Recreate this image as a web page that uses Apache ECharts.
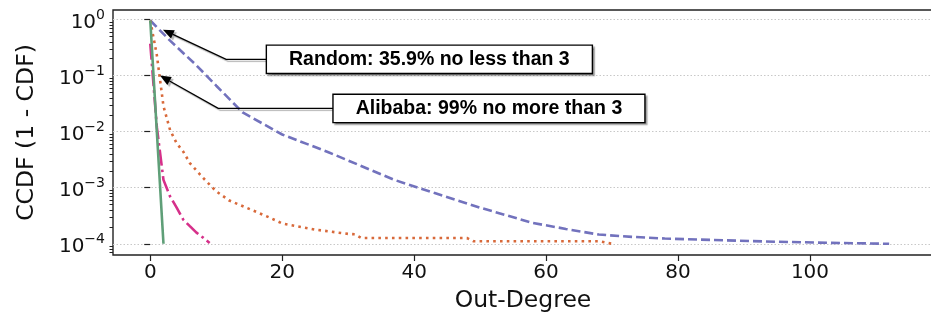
<!DOCTYPE html>
<html>
<head>
<meta charset="utf-8">
<script src="https://cdn.jsdelivr.net/npm/echarts@6/dist/echarts.min.js"></script>
<style>
  html, body { margin: 0; padding: 0; background: #fff; }
  #chart { width: 931px; height: 322px; }
</style>
</head>
<body>
<div id="chart"></div>
<script>
// x ticks and decade ticks of the log axis
const xTicks = [0, 20, 40, 60, 80, 100];
const yDecades = [1e-4, 1e-3, 1e-2, 1e-1, 1];
const yMinor = [7e-5, 8e-5, 9e-5];
[1e-4, 1e-3, 1e-2, 1e-1].forEach((d) => {
  for (let k = 2; k <= 9; k++) yMinor.push(+(d * k).toPrecision(3));
});

// CCDF curves
const randomX = [0, 3, 7, 10, 14, 20, 27, 37, 43, 50, 58, 63, 68, 73, 78, 83, 93, 103, 112];
const randomY = [0.96, 0.42, 0.152, 0.066, 0.022, 0.0089, 0.0043, 0.00138, 0.00081,
  0.00044, 0.000235, 0.000184, 0.000146, 0.000133, 0.000124, 0.000119, 0.00011,
  0.000104, 0.0001];

const orangeX = [0, 1, 2, 3, 4, 5, 6, 8, 10, 12, 15, 18, 20, 25, 30, 31, 32, 48, 49, 68, 70];
const orangeY = [0.96, 0.23, 0.0285, 0.0107, 0.0062, 0.0044, 0.00275, 0.0015, 0.00086,
  0.00059, 0.00042, 0.000296, 0.00023, 0.000179, 0.00015, 0.000148, 0.000127,
  0.000127, 0.000111, 0.000111, 0.0001];

const magentaX = [0, 1, 2, 3, 4, 5, 6, 7, 8, 9];
const magentaY = [0.37, 0.012, 0.00138, 0.0007, 0.00044, 0.00027, 0.000206, 0.000158,
  0.000129, 0.000103];

const greenX = [0, 1, 2];
const greenY = [0.96, 0.0098, 0.0001];

// annotations: text, arrow tip, elbow x, box left x, box centre y (data coords)
const annoText = ['Random: 35.9% no less than 3', 'Alibaba: 99% no more than 3'];
const annoTip = [[1.92, 0.66], [1.47, 0.1]];
const annoElbowX = [11.5, 10.3];
const annoBoxLeft = [17.7, 27.8];
const annoBoxY = [0.195, 0.026];

const zip = (xs, ys) => xs.map((x, i) => [x, ys[i]]);

const chart = echarts.init(document.getElementById('chart'), null, { renderer: 'canvas' });

const FONT = 'DejaVu Sans';

const option = {
  animation: false,
  grid: {
    left: 113,
    top: 10,
    width: 820,
    height: 245,
    outerBoundsMode: 'none',
    show: true,
    borderColor: '#222',
    borderWidth: 1.4,
    backgroundColor: 'transparent',
  },
  xAxis: {
    type: 'value',
    min: -5.65,
    max: 118.65,
    name: 'Out-Degree',
    nameLocation: 'middle',
    nameGap: 34,
    nameTextStyle: { fontFamily: FONT, fontSize: 23.5, color: '#111' },
    axisLine: { show: false },
    axisTick: { show: true, customValues: xTicks, length: 6, lineStyle: { color: '#222', width: 1.2 } },
    axisLabel: {
      customValues: xTicks,
      fontFamily: FONT,
      fontSize: 20,
      color: '#111',
      margin: 8,
    },
    splitLine: { show: false },
  },
  yAxis: [
    {
      type: 'log',
      logBase: 10,
      min: Math.pow(10, -4.2),
      max: Math.pow(10, 0.17),
      name: 'CCDF (1 - CDF)',
      nameLocation: 'middle',
      nameGap: 74,
      nameTextStyle: { fontFamily: FONT, fontSize: 23.5, color: '#111' },
      axisLine: { show: false },
      axisTick: { show: true, customValues: yDecades, length: 6, lineStyle: { color: '#222', width: 1.2 } },
      axisLabel: {
        customValues: yDecades,
        fontFamily: FONT,
        fontSize: 20,
        color: '#111',
        margin: 8,
        formatter: (v) => {
          const e = String(Math.round(Math.log10(v)));
          return '{b|10}{s|' + e.split('').map((c) => (c === '-' ? '−' : c)).join('') + '}';
        },
        rich: {
          b: { fontFamily: FONT, fontSize: 20, color: '#111', padding: [6, 0, 0, 0] },
          s: { fontFamily: FONT, fontSize: 14, color: '#111', padding: [0, 0, 8, 0] },
        },
      },
      splitLine: {
        show: true,
        customValues: yDecades,
        lineStyle: { color: '#c8c8c8', type: [1.5, 2], width: 1 },
      },
    },
    {
      type: 'log',
      logBase: 10,
      min: Math.pow(10, -4.2),
      max: Math.pow(10, 0.17),
      position: 'left',
      axisLine: { show: false },
      axisTick: { show: true, customValues: yMinor, length: 3.5, lineStyle: { color: '#222', width: 1 } },
      axisLabel: { show: false },
      splitLine: { show: false },
    },
  ],
  series: [
    {
      name: 'Random',
      type: 'line',
      data: zip(randomX, randomY),
      showSymbol: false,
      lineStyle: { color: '#7272bd', width: 2.6, type: [9, 4] },
      z: 3,
    },
    {
      name: 'Dotted',
      type: 'line',
      data: zip(orangeX, orangeY),
      showSymbol: false,
      lineStyle: { color: '#d8693a', width: 2.6, type: [2.6, 4.2] },
      z: 3,
    },
    {
      name: 'DashDot',
      type: 'line',
      data: zip(magentaX, magentaY),
      showSymbol: false,
      lineStyle: { color: '#d6308a', width: 2.6, type: [16, 4, 2.6, 4] },
      z: 3,
    },
    {
      name: 'Solid',
      type: 'line',
      data: zip(greenX, greenY),
      showSymbol: false,
      lineStyle: { color: '#5f9f78', width: 2.6 },
      z: 4,
    },
  ],
};

chart.setOption(option);

// arrows and boxes placed from data coordinates
const toPx = (pt) => chart.convertToPixel({ xAxisIndex: 0, yAxisIndex: 0 }, pt);
const graphics = [];
annoText.forEach((txt, i) => {
  const tip = toPx(annoTip[i]);
  const elbow = toPx([annoElbowX[i], annoBoxY[i]]);
  const left = toPx([annoBoxLeft[i], annoBoxY[i]]);
  const ang = Math.atan2(tip[1] - elbow[1], tip[0] - elbow[0]);
  const hl = 11, hw = 4.5;
  const base = [tip[0] - hl * Math.cos(ang), tip[1] - hl * Math.sin(ang)];
  const nx = -Math.sin(ang), ny = Math.cos(ang);
  const shadow = { shadowColor: 'rgba(0,0,0,0.3)', shadowOffsetX: 2, shadowOffsetY: 2, shadowBlur: 1 };
  graphics.push({
    type: 'polyline',
    shape: { points: [left, elbow, base] },
    style: Object.assign({ stroke: '#000', lineWidth: 1.4, fill: null }, shadow),
    z: 10,
  });
  graphics.push({
    type: 'polygon',
    shape: { points: [tip, [base[0] + nx * hw, base[1] + ny * hw], [base[0] - nx * hw, base[1] - ny * hw]] },
    style: Object.assign({ fill: '#000' }, shadow),
    z: 10,
  });
  graphics.push({
    type: 'text',
    x: left[0],
    y: left[1],
    style: {
      text: txt,
      fontFamily: 'Liberation Sans',
      fontWeight: 'bold',
      fontSize: 19.5,
      fill: '#000',
      align: 'left',
      verticalAlign: 'middle',
      backgroundColor: '#fff',
      borderColor: '#000',
      borderWidth: 1.4,
      padding: [4, 22, 3, 22],
      shadowColor: 'rgba(0,0,0,0.3)',
      shadowOffsetX: 2,
      shadowOffsetY: 2,
      shadowBlur: 1,
    },
    z: 11,
  });
});
chart.setOption({ graphic: graphics });
</script>
</body>
</html>
